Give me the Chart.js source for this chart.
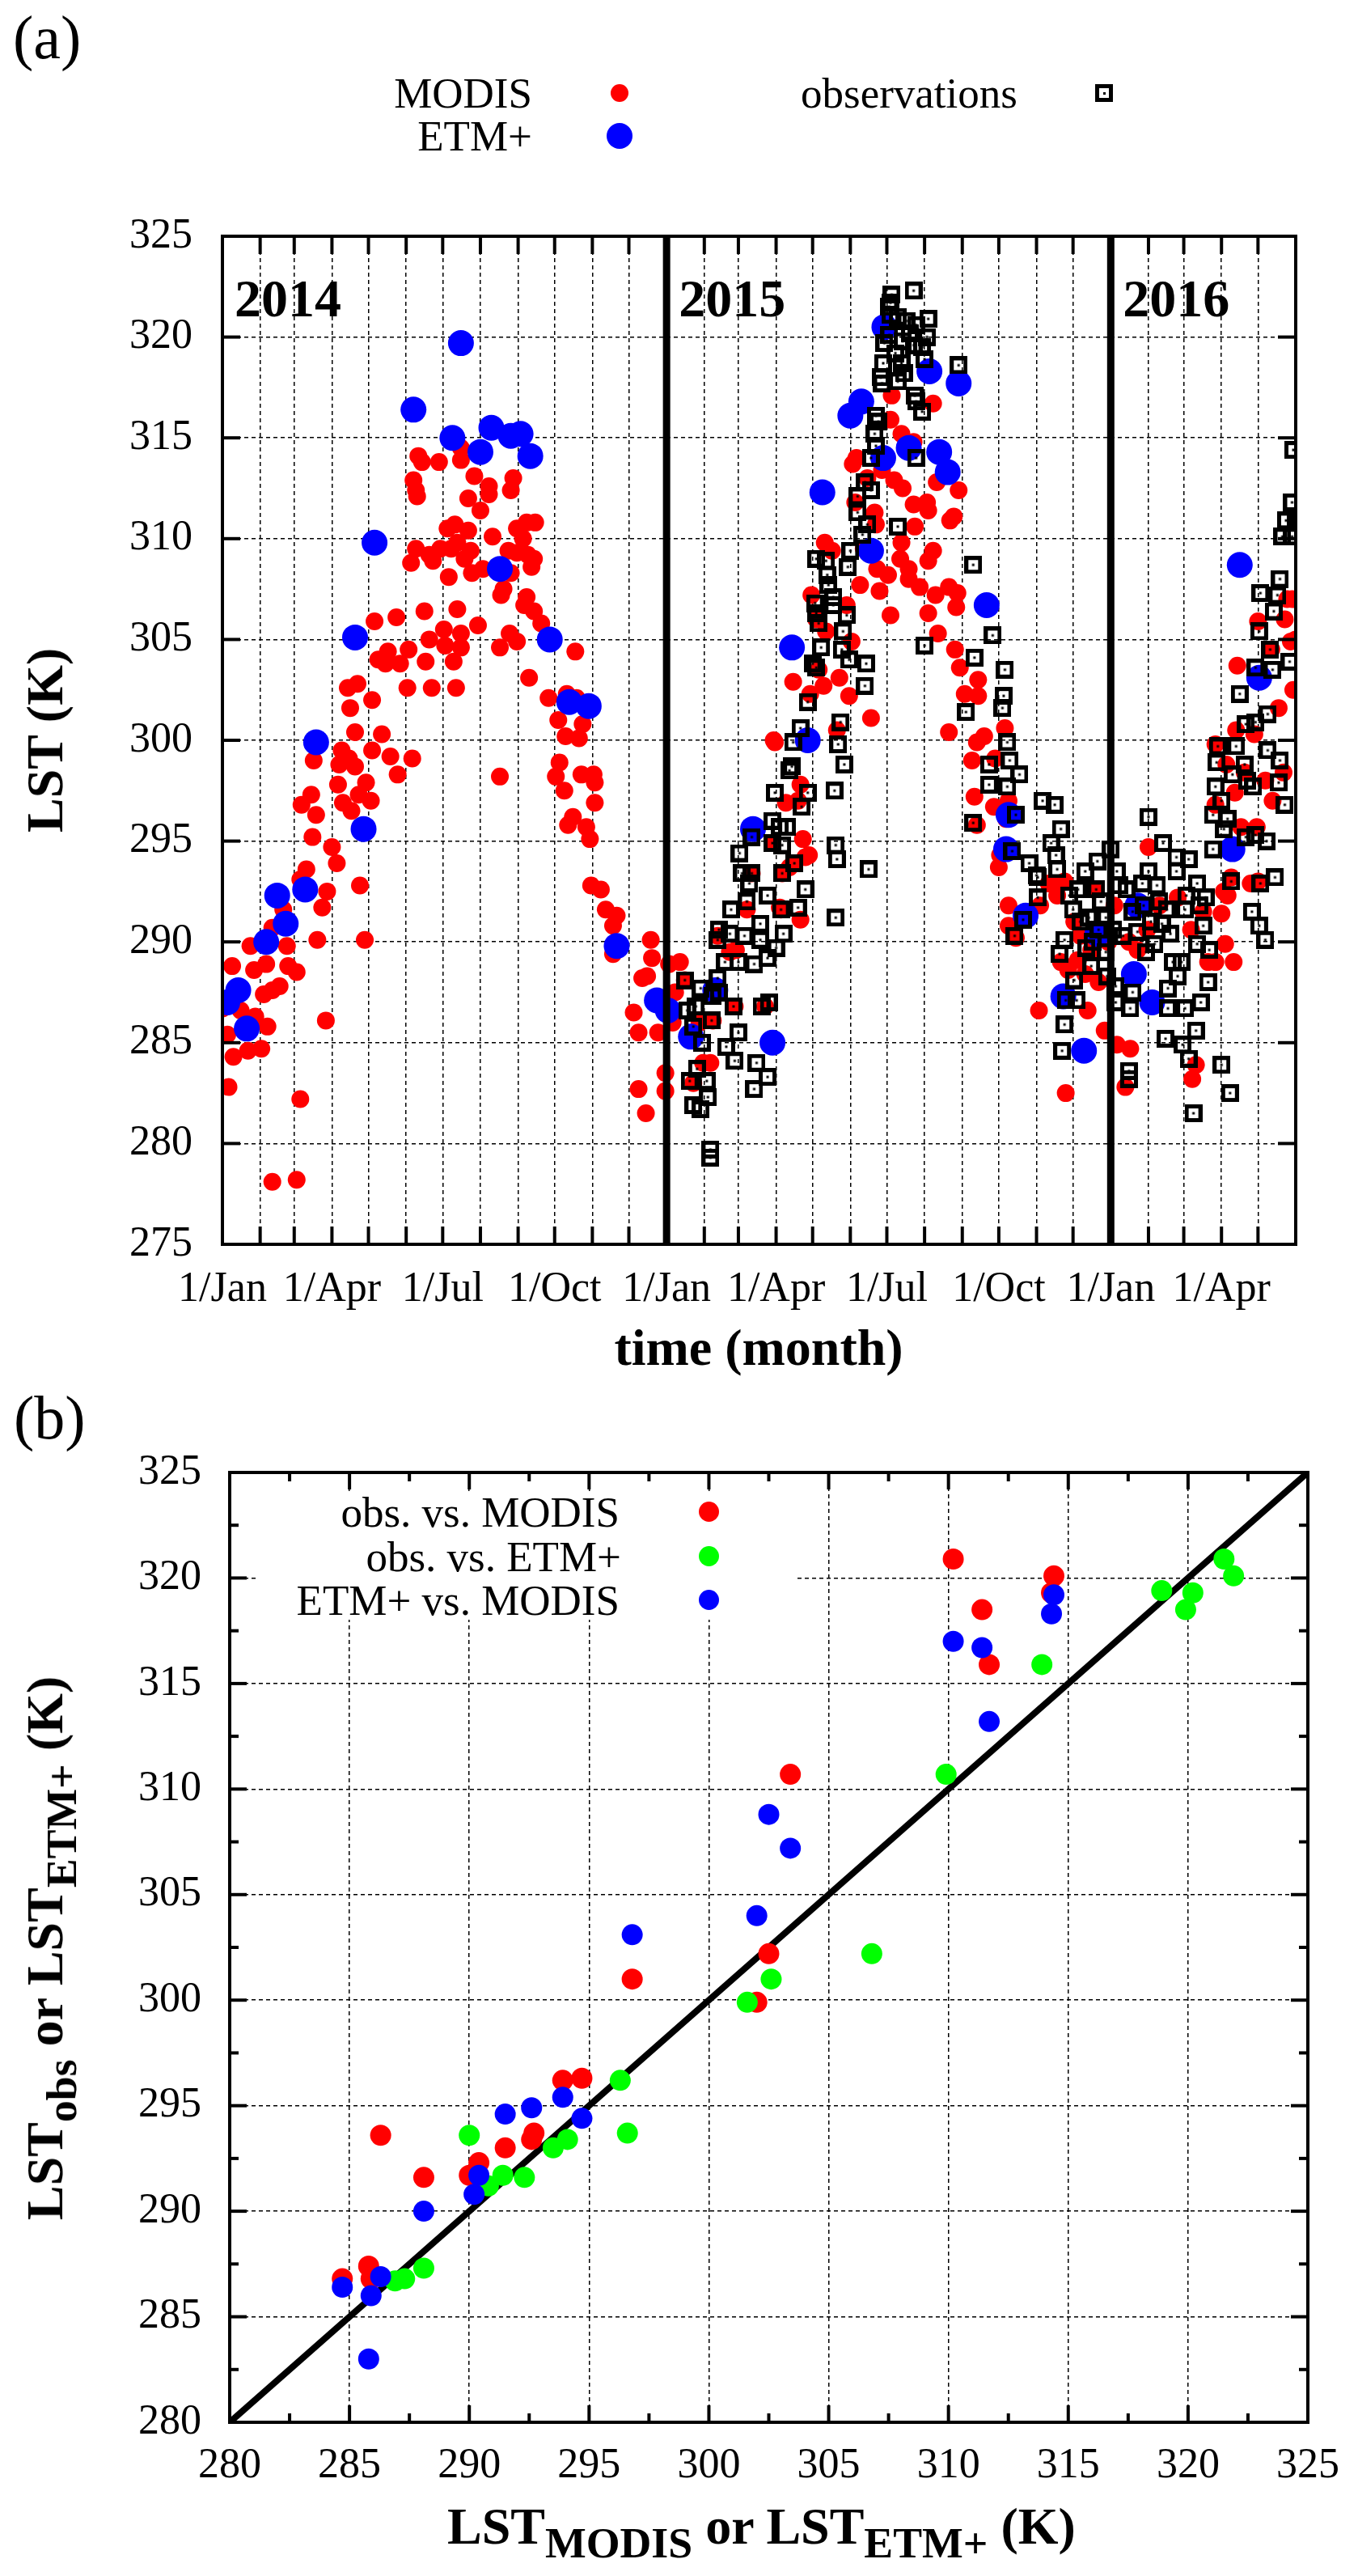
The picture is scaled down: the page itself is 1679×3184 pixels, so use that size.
<!DOCTYPE html>
<html>
<head>
<meta charset="utf-8">
<title>LST: MODIS, ETM+ and observations</title>
<script src="https://cdn.jsdelivr.net/npm/chart.js@4.4.1/dist/chart.umd.min.js"></script>
<style>
  body { margin: 0; background: #fff; }
  #page { position: relative; width: 1679px; height: 3184px; overflow: hidden; background: #fff; }
  canvas { position: absolute; left: 0; }
  .t { position: absolute; white-space: nowrap; font-family: "Liberation Serif", "DejaVu Serif", serif; color: #000; }
  .t sub { font-size: 0.84em; vertical-align: baseline; position: relative; top: 0.31em; line-height: 0; }
  .dot { position: absolute; border-radius: 50%; }
  .sq { position: absolute; box-sizing: border-box; border: 5px solid #000; }
  .sq::after { content: ''; position: absolute; left: 4.5px; top: 4.5px; width: 3px; height: 3px; background: #000; }
</style>
</head>
<body>
<div id="page">
  <canvas id="chartA" width="1679" height="1700" style="top:0"></canvas>
  <canvas id="chartB" width="1679" height="1484" style="top:1700px"></canvas>
  <div id="keyBoxB" style="position:absolute;left:318px;top:1845px;width:664px;height:157px;background:#fff"></div>
</div>
<script>
const SERIF = '"Liberation Serif", "DejaVu Serif", serif';

// ---- panel (a): day since 1/Jan/2014, LST (K) ----
// first day of each month, 1/Jan/2014 .. 1/Jun/2016
const monthTickDays = [0,31,59,90,120,151,181,212,243,273,304,334,
  365,396,424,455,485,516,546,577,608,638,669,699,
  730,761,790,821,851,882];
const monthTickLabels = ['1/Jan','','','1/Apr','','','1/Jul','','','1/Oct','','',
  '1/Jan','','','1/Apr','','','1/Jul','','','1/Oct','','',
  '1/Jan','','','1/Apr','',''];
const yearStartDays = [0, 365, 730];
const yearLabels = ['2014', '2015', '2016'];

const modisPts = [
  [161,314.1],[164,313.8],[178,313.8],[196,314.5],[196,313.9],[157,312.9],[159,312.4],[160,312.1],[207,313.1],[219,312.6],
  [219,312.2],[202,312.0],[212,311.4],[239,313.0],[237,312.4],[191,310.7],[185,310.5],[202,310.4],[222,310.1],[257,310.8],
  [250,310.8],[242,310.5],[247,310.0],[159,309.5],[170,309.2],[173,308.9],[155,308.8],[179,309.5],[188,309.5],[193,309.8],
  [204,309.4],[199,309.0],[205,308.3],[214,308.5],[235,309.4],[242,309.3],[251,309.2],[256,309.0],[254,308.6],[237,308.3],
  [186,308.1],[231,307.5],[229,307.2],[250,307.1],[248,306.7],[256,306.4],[262,305.8],[166,306.4],[193,306.5],[125,305.9],
  [143,306.1],[210,305.7],[182,305.5],[196,305.3],[170,305.0],[183,304.7],[196,304.6],[236,305.3],[242,304.9],[228,304.6],
  [153,304.5],[290,304.4],[128,304.0],[136,304.4],[134,303.8],[146,303.8],[167,303.9],[190,303.9],[252,303.1],[103,302.6],
  [111,302.8],[123,302.0],[152,302.6],[172,302.6],[192,302.6],[105,301.6],[268,302.1],[283,302.3],[291,302.1],[276,301.0],
  [296,300.8],[282,300.2],[293,300.1],[109,300.4],[131,300.3],
  [98,299.5],[104,299.1],[96,298.8],[109,298.7],[123,299.5],[138,299.2],[156,299.1],[144,298.3],[75,299.0],[95,297.8],
  [118,297.9],[112,297.3],[122,297.0],[99,296.9],[106,296.5],[65,296.8],[73,297.3],[77,296.3],[74,295.2],[90,294.7],
  [94,293.9],[69,293.6],[64,293.1],[86,292.5],[82,291.7],[78,290.1],[113,292.8],[117,290.1],[50,291.6],[41,290.7],
  [53,289.8],[23,289.8],[36,288.9],[26,288.6],[54,288.8],[61,288.5],[8,288.8],[47,287.8],[34,287.4],[41,287.6],
  [0,286.7],[15,286.6],[27,286.3],[37,285.8],[4,285.4],[9,284.3],[21,284.6],[32,284.7],[5,282.8],[64,282.2],
  [85,286.1],[41,278.1],[61,278.2],[228,298.2],[277,298.9],[274,298.2],[281,297.5],[295,298.3],[305,298.3],[306,297.9],
  [306,296.9],[288,296.2],[284,295.8],[299,295.7],[302,295.1],[303,292.8],[311,292.6],[315,291.6],[324,291.3],[321,290.8],
  [321,289.4],[345,288.2],[338,286.5],[342,285.5],[342,282.7],[348,281.5],
  [352,290.1],[353,289.2],[349,288.3],[367,288.9],[376,289.0],[358,285.5],[364,283.5],[364,282.6],[421,286.8],[401,284.0],
  [403,286.1],[458,291.7],[475,297.8],[473,297.0],[463,296.9],[466,293.7],[422,289.6],[446,286.8],[454,299.9],[477,295.1],
  [479,294.2],[475,291.1],[380,288.1],[460,293.4],[459,291.6],[431,291.6],[435,293.4],[407,290.3],[452,294.9],[470,293.9],
  [417,289.5],[392,286.0],[395,284.0],[387,283.0],[372,287.5],[370,286.0],[482,294.3],
  [550,317.1],[584,316.7],[549,315.9],[558,315.2],[568,314.8],[521,314.0],[518,313.7],[542,313.4],[552,312.9],[559,312.5],
  [587,312.8],[568,311.7],[579,311.8],[580,311.4],[598,310.9],[569,310.6],[536,311.3],[537,310.7],[495,309.8],[501,309.4],
  [558,309.8],[557,309.0],[584,309.4],[580,308.9],[564,308.5],[538,308.5],[547,308.2],[564,308.0],[573,307.6],[586,307.2],
  [597,307.6],[580,306.3],[549,306.2],[524,307.7],[540,307.4],[484,307.2],[513,306.7],[588,305.3],[496,305.4],[517,304.9],
  [507,303.1],[469,302.9],[494,302.7],[483,302.3],[515,302.2],[533,301.1],[597,300.4],[453,300.0],[488,306.0],[520,311.8],
  [527,309.5],[490,303.5],[505,300.5],[530,313.0],
  [605,312.4],[601,311.1],[603,306.6],[606,303.6],[621,303.0],[621,302.2],[610,302.3],[620,299.9],[626,300.2],[616,299.0],
  [618,297.2],[643,300.6],[635,299.1],[646,297.0],[638,293.7],[646,291.8],[646,290.8],[652,290.2],[671,286.6],[693,282.5],
  [711,286.6],[725,285.6],[735,284.9],[746,284.7],[742,282.8],[761,294.7],[634,296.7],[679,292.9],[686,292.3],[672,291.8],
  [620,295.8],[644,296.1],[639,294.3],[687,292.8],[604,307.3],[602,304.5],
  [689,289.0],[695,288.6],[703,289.1],[709,288.4],[700,291.0],[705,290.3],[714,289.6],[720,288.0],[728,290.0],[733,291.8],
  [745,290.0],[752,289.6],[760,290.6],[770,291.8],[785,292.2],[796,290.6],[806,291.5],[810,289.0],[692,293.0],[716,292.6],
  [816,296.8],[821,291.4],[816,289.0],[831,289.0],[826,292.3],[800,283.9],[797,283.2],[834,303.7],[833,300.5],[840,298.4],
  [850,295.7],[845,292.9],[851,305.9],[862,304.5],[875,307.0],[878,304.9],[880,302.5],[873,306.0],[863,297.0],[879,307.0],
  [882,305.0],[829,293.2],[823,292.5],[824,289.9],[837,295.7],[851,293.0],[857,298.0],[872,298.4],[825,298.8],[832,297.4],
  [816,299.8],[848,300.3],[868,301.6]
];

const etmPts = [
  [4,287.0],[13,287.6],[20,285.7],[36,290.0],[45,292.3],[52,290.9],[68,292.6],[77,299.9],[109,305.1],[116,295.6],
  [125,309.8],[157,316.4],[189,315.0],[196,319.7],[212,314.3],[221,315.5],[228,308.5],[237,315.1],[245,315.2],[253,314.1],
  [269,305.0],[285,301.9],[301,301.7],[324,289.8],[357,287.1],[366,286.6],[385,285.3],[405,287.6],[436,295.6],[452,285.0],
  [468,304.6],[481,300.0],[493,312.3],[516,316.1],[525,316.8],[533,309.4],[543,314.0],[544,320.5],[564,314.5],[581,318.3],
  [589,314.3],[596,313.3],[605,317.7],[628,306.7],[644,294.6],[646,296.3],[660,291.3],[691,287.3],[708,284.6],[719,290.4],
  [749,288.4],[752,291.8],[764,287.0],[830,294.6],[836,308.7],[852,303.1]
];

const obsPts = [
  [568,322.3],[550,322.1],[549,321.7],[548,321.5],[549,321.1],[580,320.9],[562,320.8],[570,320.6],[579,320.0],[544,319.7],
  [548,320.1],[559,319.8],[568,319.6],[577,318.9],[543,318.7],[558,318.7],[605,318.6],[541,318.0],[555,317.8],[542,317.7],
  [569,317.1],[570,316.8],[575,316.3],[537,316.1],[539,315.8],[536,315.2],[537,314.6],[533,314.0],[570,314.0],[528,312.8],
  [533,312.4],[522,312.1],[522,311.3],[530,310.7],[555,310.6],[526,310.2],[516,309.4],[488,309.0],[496,308.9],[514,308.6],
  [497,308.2],[498,307.7],[502,307.1],[487,306.8],[488,306.3],[513,306.2],[502,306.7],[490,305.8],[510,305.4],[492,304.6],
  [509,304.5],[577,304.7],[485,303.8],[488,303.6],[515,304.0],[529,303.8],[528,302.7],[481,301.9],[508,300.9],[475,300.6],
  [555,321.0],[565,320.2],[575,319.5],[553,319.2],[560,318.2],
  [469,299.9],[506,299.8],[511,298.8],[468,298.7],[466,298.5],[503,297.5],[454,297.4],[481,297.4],[476,296.7],[504,294.8],
  [505,294.1],[531,293.6],[435,295.2],[452,296.0],[458,295.7],[464,295.7],[425,294.4],[452,294.9],[460,294.8],[470,293.9],
  [427,293.4],[435,293.4],[433,292.9],[460,293.4],[479,292.6],[418,291.6],[431,292.0],[448,292.3],[473,291.7],[459,291.6],
  [504,291.2],[442,290.9],[408,290.6],[407,290.1],[417,290.4],[429,290.3],[442,290.1],[461,290.4],[455,289.7],[448,289.2],
  [413,289.0],[424,289.0],[437,288.9],[380,288.1],[407,288.2],[393,287.7],[408,287.5],[403,287.3],[382,286.6],[389,286.8],
  [420,286.8],[443,286.8],[449,287.0],[387,285.8],[424,285.5],[402,286.1],[394,285.0],[414,284.8],[421,284.1],[439,284.0],
  [448,283.3],[437,282.7],[390,283.7],[384,283.1],[398,283.1],[399,282.3],[387,281.9],[393,281.7],[401,279.7],[401,279.3],
  [617,308.7],[633,305.2],[618,304.1],[643,303.5],[642,302.2],[641,301.6],[611,301.4],[645,299.9],[647,299.0],[655,298.3],
  [630,298.8],[630,297.8],[645,297.7],[652,296.3],[617,295.9],[674,297.0],[684,296.8],[689,295.6],[681,294.9],[685,294.3],
  [686,293.6],[663,293.9],[670,293.2],[670,292.2],[649,294.5],[658,291.1],[651,290.3],[669,293.3],
  [730,294.6],[719,294.0],[709,293.5],[703,292.6],[718,292.6],[699,291.6],[712,291.2],[726,291.2],[732,290.6],[692,290.1],
  [688,289.4],[700,288.1],[693,287.1],[702,287.1],[692,285.9],[690,284.6],[745,283.6],[745,283.2],[743,292.6],[748,291.5],
  [734,287.8],[734,287.0],[748,287.5],[746,286.7],[705,291.0],[715,290.0],[722,292.0],[737,292.8],[740,290.3],[752,290.5],
  [756,292.9],[763,291.0],[766,289.9],[770,292.0],[776,291.6],[726,289.5],[714,288.8],[720,290.6],[735,293.5],[696,292.3],
  [710,289.7],[727,288.3],
  [761,296.2],[773,294.9],[784,294.2],[794,294.1],[784,293.5],[801,292.9],[803,291.8],[808,292.2],[791,291.6],[806,290.8],
  [801,289.9],[792,292.3],[761,293.5],[768,292.8],[757,291.8],[772,290.9],[779,290.4],[759,289.5],
  [821,283.9],[828,282.5],[798,281.5],[794,284.2],[789,284.9],[800,285.6],[775,285.2],[804,287.0],[810,288.0],[777,287.7],
  [791,286.7],[777,286.7],[788,289.0],[811,289.6],[781,289.0],[785,288.3],
  [818,299.7],[833,299.7],[859,299.5],[869,299.0],[817,298.9],[840,298.8],[830,298.3],[842,298.0],[868,297.9],[847,297.7],
  [816,297.7],[873,296.8],[821,297.0],[814,296.3],[826,296.1],[823,295.6],[814,294.6],[858,295.0],[849,295.3],[841,295.2],
  [865,293.2],[853,292.9],[829,293.0],[846,291.5],[852,290.8],[857,290.1],
  [877,303.9],[863,303.5],[849,303.6],[836,302.3],[859,301.3],[841,300.8],[849,300.9],[861,304.5],
  [880,314.4],[879,311.8],[882,311.0],[874,310.9],[871,310.1],[879,310.1],[869,308.0],[853,307.3],[867,307.2],[864,306.4],
  [852,305.4]
];

// ---- panel (b): [x = LST_MODIS or LST_ETM+, y = LST_obs or LST_ETM+] ----
const obsVsModis = [
  [284.7,286.8],[285.8,287.4],[285.9,286.8],[286.3,293.6],[288.1,291.6],[290.0,291.7],[290.4,292.3],[291.5,293.0],
  [292.6,293.4],[292.7,293.7],[293.9,296.2],[294.7,296.3],[296.8,301.0],[302.0,299.9],[302.5,302.2],[303.4,310.7],
  [310.2,320.9],[314.4,320.1],[314.3,319.3],[311.4,318.5],[311.7,315.9]
];
const obsVsEtm = [
  [286.9,286.7],[287.3,286.8],[288.1,287.3],[290.0,293.6],[290.8,291.2],[291.4,291.7],[292.3,291.6],[293.5,293.0],
  [294.1,293.4],[296.3,296.2],[296.6,293.7],[301.6,299.9],[302.6,301.0],[306.8,302.2],[309.9,310.7],[313.9,315.9],
  [318.9,319.4],[320.2,319.3],[319.9,318.5],[321.5,320.9],[321.9,320.1]
];
const etmVsModis = [
  [284.7,286.4],[285.9,286.0],[286.3,286.9],[285.8,283.0],[288.1,290.0],[290.2,290.8],[290.4,291.7],[291.5,294.6],
  [292.6,294.9],[293.9,295.4],[294.7,294.4],[296.8,303.1],[302.0,304.0],[302.5,308.8],[303.4,307.2],[310.2,317.0],
  [311.4,316.7],[311.7,313.2],[314.4,319.2],[314.3,318.3]
];
const oneToOne = [280, 325];

const toXY = pts => pts.map(p => ({ x: p[0], y: p[1] }));

// square marker with a centre dot, inside left open
const obsMarker = document.createElement('canvas');
obsMarker.width = 22; obsMarker.height = 22;
(function () {
  const c = obsMarker.getContext('2d');
  c.strokeStyle = '#000'; c.lineWidth = 5;
  c.strokeRect(2.5, 2.5, 17, 17);
  c.fillStyle = '#000';
  c.fillRect(9.5, 9.5, 3, 3);
})();

const page = document.getElementById('page');
function addText(html, x, base, size, align, bold) {
  const d = document.createElement('div');
  d.className = 't';
  d.innerHTML = html;
  d.style.fontSize = size + 'px';
  d.style.lineHeight = size + 'px';
  d.style.fontWeight = bold ? 'bold' : 'normal';
  d.style.left = x + 'px';
  d.style.top = (base - 0.8375 * size) + 'px';
  if (align === 'right') d.style.transform = 'translateX(-100%)';
  if (align === 'center') d.style.transform = 'translateX(-50%)';
  page.appendChild(d);
}
function addVText(html, cx, cy, size) {
  const d = document.createElement('div');
  d.className = 't';
  d.innerHTML = html;
  d.style.fontSize = size + 'px';
  d.style.lineHeight = size + 'px';
  d.style.fontWeight = 'bold';
  d.style.left = cx + 'px';
  d.style.top = cy + 'px';
  d.style.transform = 'translate(-50%,-50%) rotate(-90deg)';
  page.appendChild(d);
}
function addDot(cx, cy, r, color) {
  const d = document.createElement('div');
  d.className = 'dot';
  d.style.cssText += `left:${cx - r}px;top:${cy - r}px;width:${2 * r}px;height:${2 * r}px;background:${color}`;
  page.appendChild(d);
}
function addSquare(cx, cy) {
  const d = document.createElement('div');
  d.className = 'sq';
  d.style.cssText += `left:${cx - 11}px;top:${cy - 11}px;width:22px;height:22px`;
  page.appendChild(d);
}

function line(ctx, x1, y1, x2, y2) {
  ctx.beginPath(); ctx.moveTo(x1, y1); ctx.lineTo(x2, y2); ctx.stroke();
}

// inward ticks on all four sides, year separators and the frame
const frameA = {
  id: 'frameA',
  afterDatasetsDraw(chart) {
    const { ctx, chartArea: a, scales: { x, y } } = chart;
    ctx.save();
    ctx.strokeStyle = '#000';
    ctx.lineWidth = 9;
    yearStartDays.slice(1).forEach(d => {
      const px = x.getPixelForValue(d);
      line(ctx, px, a.top, px, a.bottom);
    });
    ctx.lineWidth = 4;
    x.ticks.forEach(t => {
      const px = x.getPixelForValue(t.value);
      line(ctx, px, a.bottom, px, a.bottom - 22);
      line(ctx, px, a.top, px, a.top + 22);
    });
    y.ticks.forEach(t => {
      const py = y.getPixelForValue(t.value);
      line(ctx, a.left, py, a.left + 22, py);
      line(ctx, a.right, py, a.right - 22, py);
    });
    ctx.strokeRect(a.left, a.top, a.right - a.left, a.bottom - a.top);
    ctx.restore();
  }
};

const frameB = {
  id: 'frameB',
  afterDatasetsDraw(chart) {
    const { ctx, chartArea: a, scales: { x, y } } = chart;
    ctx.save();
    ctx.strokeStyle = '#000';
    ctx.lineWidth = 4;
    const xs = x.ticks.map(t => t.value);
    const ys = y.ticks.map(t => t.value);
    xs.forEach((v, i) => {
      const px = x.getPixelForValue(v);
      line(ctx, px, a.bottom, px, a.bottom - 21);
      line(ctx, px, a.top, px, a.top + 21);
      if (i < xs.length - 1) {
        const pm = x.getPixelForValue((v + xs[i + 1]) / 2);
        line(ctx, pm, a.bottom, pm, a.bottom - 11);
        line(ctx, pm, a.top, pm, a.top + 11);
      }
    });
    ys.forEach((v, i) => {
      const py = y.getPixelForValue(v);
      line(ctx, a.left, py, a.left + 21, py);
      line(ctx, a.right, py, a.right - 21, py);
      if (i < ys.length - 1) {
        const pm = y.getPixelForValue((v + ys[i + 1]) / 2);
        line(ctx, a.left, pm, a.left + 11, pm);
        line(ctx, a.right, pm, a.right - 11, pm);
      }
    });
    ctx.strokeRect(a.left, a.top, a.right - a.left, a.bottom - a.top);
    ctx.restore();
  }
};

const tickFont = { family: SERIF, size: 52 };
const gridOpts = { color: '#000', lineWidth: 1.5, drawTicks: false };
const borderOpts = { display: false, dash: [5, 4] };

const chartA = new Chart(document.getElementById('chartA'), {
  type: 'scatter',
  data: {
    datasets: [
      { label: 'MODIS', data: toXY(modisPts), order: 3, pointRadius: 11, pointBorderWidth: 0,
        backgroundColor: '#ff0000', borderColor: '#ff0000' },
      { label: 'ETM+', data: toXY(etmPts), order: 2, pointRadius: 16, pointBorderWidth: 0,
        backgroundColor: '#0000ff', borderColor: '#0000ff' },
      { label: 'observations', data: toXY(obsPts), order: 1, pointRadius: 11, pointStyle: obsMarker,
        backgroundColor: '#000', borderColor: '#000' }
    ]
  },
  options: {
    responsive: false,
    animation: false,
    events: [],
    layout: { padding: { top: 292, right: 77, left: 0, bottom: 0 } },
    plugins: { legend: { display: false }, tooltip: { enabled: false } },
    scales: {
      x: {
        type: 'linear', min: 0, max: 882,
        afterBuildTicks: s => { s.ticks = monthTickDays.map(v => ({ value: v })); },
        ticks: { autoSkip: false, maxRotation: 0, minRotation: 0, padding: 25, color: '#000', font: tickFont,
                 callback: (v, i) => monthTickLabels[i] },
        grid: gridOpts,
        border: borderOpts,
        afterFit: s => { s.height = 1700 - 1538; }
      },
      y: {
        min: 275, max: 325,
        ticks: { stepSize: 5, padding: 37, color: '#000', font: tickFont },
        grid: gridOpts,
        border: borderOpts,
        afterFit: s => { s.width = 275; }
      }
    }
  },
  plugins: [frameA]
});

const chartB = new Chart(document.getElementById('chartB'), {
  type: 'scatter',
  data: {
    datasets: [
      { label: 'obs. vs. MODIS', data: toXY(obsVsModis), order: 3, pointRadius: 13, pointBorderWidth: 0,
        backgroundColor: '#ff0000', borderColor: '#ff0000' },
      { label: 'obs. vs. ETM+', data: toXY(obsVsEtm), order: 2, pointRadius: 13, pointBorderWidth: 0,
        backgroundColor: '#00ff00', borderColor: '#00ff00' },
      { label: 'ETM+ vs. MODIS', data: toXY(etmVsModis), order: 1, pointRadius: 13, pointBorderWidth: 0,
        backgroundColor: '#0000ff', borderColor: '#0000ff' },
      { label: '1:1', data: oneToOne.map(v => ({ x: v, y: v })), order: 4, showLine: true, pointRadius: 0,
        borderColor: '#000', borderWidth: 8 }
    ]
  },
  options: {
    responsive: false,
    animation: false,
    events: [],
    layout: { padding: { top: 120, right: 61, left: 0, bottom: 0 } },
    plugins: { legend: { display: false }, tooltip: { enabled: false } },
    scales: {
      x: {
        type: 'linear', min: 280, max: 325,
        ticks: { stepSize: 5, maxRotation: 0, padding: 23, color: '#000', font: tickFont },
        grid: gridOpts,
        border: borderOpts,
        afterFit: s => { s.height = 1484 - 1294; }
      },
      y: {
        min: 280, max: 325,
        ticks: { stepSize: 5, padding: 35, color: '#000', font: tickFont },
        grid: gridOpts,
        border: borderOpts,
        afterFit: s => { s.width = 284; }
      }
    }
  },
  plugins: [frameB]
});

// ---- text and keys ----
addText('(a)', 16, 72, 76, 'left');
addText('MODIS', 658, 133, 53, 'right');
addText('ETM+', 658, 186, 53, 'right');
addText('observations', 990, 133, 53, 'left');
addDot(766, 115, 11, '#ff0000');
addDot(766, 168, 16, '#0000ff');
addSquare(1365, 115);

yearStartDays.forEach((d, i) => {
  addText(yearLabels[i], chartA.scales.x.getPixelForValue(d) + 15, 391, 66, 'left', true);
});
addText('time (month)', 938, 1688, 64, 'center', true);
addVText('LST (K)', 56, 915, 64);

addText('(b)', 17, 1778, 76, 'left');
addText('obs. vs. MODIS', 766, 1887, 53, 'right');
addText('obs. vs. ETM+', 768, 1942, 53, 'right');
addText('ETM+ vs. MODIS', 766, 1996, 53, 'right');
addDot(876, 1868, 12.5, '#ff0000');
addDot(876, 1923, 12.5, '#00ff00');
addDot(876, 1977, 12.5, '#0000ff');
addVText('LST<sub>obs</sub> or LST<sub>ETM+</sub> (K)', 56, 2408, 64);
addText('LST<sub>MODIS</sub> or LST<sub>ETM+</sub> (K)', 553, 3145, 64, 'left', true);
</script>
</body>
</html>
